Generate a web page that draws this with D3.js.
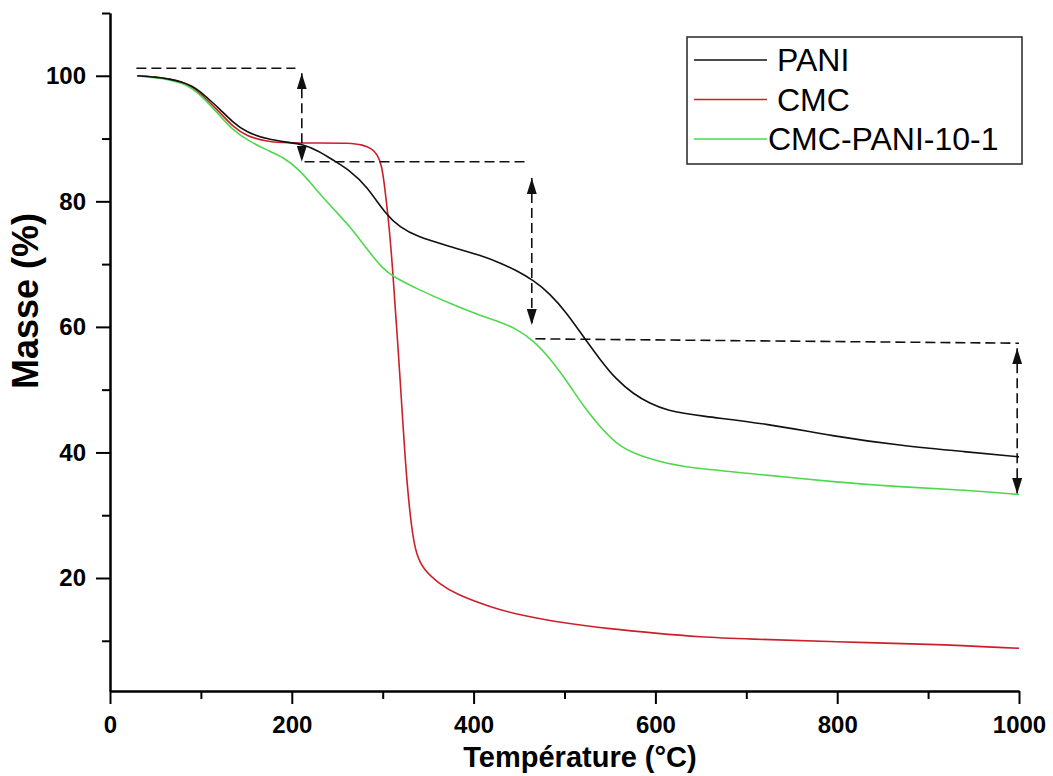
<!DOCTYPE html>
<html>
<head>
<meta charset="utf-8">
<script src="https://cdn.jsdelivr.net/npm/d3@7"></script>
<style>
	body { margin: 0; background: #fff; }
	svg { display: block; font-family: "Liberation Sans", Arial, sans-serif; }
	.axis path, .axis line { stroke: #000; stroke-width: 2; }
	.axis text { font-size: 24px; font-weight: bold; fill: #000; }
	.curve { fill: none; stroke-width: 1.6; }
	.guide { fill: none; stroke: #111; stroke-width: 1.6; stroke-dasharray: 10,5; }
</style>
</head>
<body>
<div id="tga"></div>
<script>
//Global variables
var width = 1053;
var height = 776;

//Temperature (°C) and mass (%)
var paniT = [30, 50, 65, 80, 90, 100, 110, 120, 135, 150, 173, 195, 212, 230, 245, 264, 282, 304, 319, 337, 374, 410, 429, 447, 466, 484, 502, 520, 539, 557, 576, 594, 612, 649, 722, 795, 869, 942, 1000];
var paniM = [100, 99.8, 99.5, 99.0, 98.4, 97.4, 96.1, 94.8, 92.6, 91.0, 89.9, 89.4, 89.1, 88.0, 86.6, 84.9, 82.5, 77.8, 75.9, 74.4, 72.8, 71.3, 70.2, 69.0, 67.4, 65.3, 62.3, 58.6, 54.8, 51.6, 49.3, 47.8, 46.7, 45.8, 44.6, 42.6, 41.1, 40.1, 39.3];

var cmcT = [30, 50, 65, 80, 90, 100, 110, 120, 135, 150, 173, 195, 230, 264, 278, 288, 294, 299, 302, 306, 310, 314, 317, 321, 326, 332, 337, 345, 363, 381, 418, 450, 500, 550, 600, 649, 700, 800, 900, 1000];
var cmcM = [100, 99.8, 99.5, 99.0, 98.2, 97.1, 95.7, 94.3, 91.9, 90.4, 89.5, 89.3, 89.3, 89.3, 89.0, 88.4, 87.5, 85.7, 82.5, 77.6, 71.2, 62.5, 56.5, 47.5, 36.0, 27.5, 23.7, 21.3, 19.0, 17.4, 15.4, 14.1, 12.8, 11.9, 11.2, 10.6, 10.3, 9.8, 9.5, 8.8];

var mixT = [30, 50, 65, 80, 90, 99, 117, 135, 154, 172, 190, 209, 227, 245, 264, 282, 301, 312, 337, 374, 411, 429, 447, 466, 484, 502, 521, 539, 557, 576, 612, 649, 722, 796, 869, 942, 1000];
var mixM = [100, 99.7, 99.4, 98.8, 98.0, 97.0, 94.3, 91.3, 89.5, 88.2, 87.1, 85.0, 81.8, 78.9, 76.0, 72.5, 69.1, 68.0, 66.1, 63.7, 61.6, 60.8, 59.7, 57.8, 55.0, 51.5, 47.3, 44.1, 41.4, 39.8, 38.2, 37.4, 36.4, 35.3, 34.5, 34.0, 33.3];

var seriesNames = ["PANI", "CMC", "CMC-PANI-10-1"];
var seriesColors = ["#111111", "#cc1f2a", "#4fd84f"];

//Dashed guides (horizontal levels) and double arrows
var guideStartT = [29, 214, 468];
var guideEndT = [204, 458, 1000];
var guideStartM = [101.2, 86.3, 58.1];
var guideEndM = [101.2, 86.3, 57.4];
var arrowT = [211, 464, 998];
var arrowTopM = [100.4, 83.7, 56.6];
var arrowBottomM = [86.3, 60.3, 33.4];

//Ticks
var xMajor = [0, 200, 400, 600, 800, 1000];
var xMinor = [100, 300, 500, 700, 900];
var yMajor = [20, 40, 60, 80, 100];
var yMinor = [10, 30, 50, 70, 90, 110];

function drawChart() {
	var svg = d3.select("#tga")
	.append("svg")
	.attr("width", width)
	.attr("height", height);

	//Define scales
	var xScale = d3.scaleLinear()
	.domain([0, 1000])
	.range([110, 1019]);

	var yScale = d3.scaleLinear()
	.domain([2, 110])
	.range([691, 13]);

	//Arrow heads
	var defs = svg.append("defs");
	defs.append("marker")
	.attr("id", "head")
	.attr("viewBox", "0 -5 16 10")
	.attr("refX", 16)
	.attr("refY", 0)
	.attr("markerWidth", 16)
	.attr("markerHeight", 10)
	.attr("markerUnits", "userSpaceOnUse")
	.attr("orient", "auto-start-reverse")
	.append("path")
	.attr("d", "M0,-5L16,0L0,5Z")
	.attr("fill", "#111");

	//Minor ticks first, then major ticks with labels
	svg.append("g")
	.classed("axis", true)
	.attr("transform", "translate(0,691)")
	.call(d3.axisBottom(xScale).tickValues(xMinor).tickSize(8).tickSizeOuter(0).tickFormat(""));

	svg.append("g")
	.classed("axis", true)
	.attr("transform", "translate(0,691)")
	.call(d3.axisBottom(xScale).tickValues(xMajor).tickSize(13).tickSizeOuter(0).tickPadding(12).tickFormat(d3.format("d")));

	svg.append("g")
	.classed("axis", true)
	.attr("transform", "translate(110,0)")
	.call(d3.axisLeft(yScale).tickValues(yMinor).tickSize(8).tickSizeOuter(0).tickFormat(""));

	svg.append("g")
	.classed("axis", true)
	.attr("transform", "translate(110,0)")
	.call(d3.axisLeft(yScale).tickValues(yMajor).tickSize(14).tickSizeOuter(0).tickPadding(10).tickFormat(d3.format("d")));

	//Curves
	var line = d3.line()
	.x(function(d) { return xScale(d[0]); })
	.y(function(d) { return yScale(d[1]); })
	.curve(d3.curveBasis);

	var series = [d3.zip(paniT, paniM), d3.zip(cmcT, cmcM), d3.zip(mixT, mixM)];
	//draw CMC first so PANI stays on top where they overlap
	[1, 2, 0].forEach(function(i) {
		svg.append("path")
		.datum(series[i])
		.classed("curve", true)
		.attr("stroke", seriesColors[i])
		.attr("d", line);
	});

	//Dashed level lines
	for (var i = 0; i < guideStartT.length; i++) {
		svg.append("line")
		.classed("guide", true)
		.attr("x1", xScale(guideStartT[i]))
		.attr("y1", yScale(guideStartM[i]))
		.attr("x2", xScale(guideEndT[i]))
		.attr("y2", yScale(guideEndM[i]));
	}

	//Double arrows for the mass losses
	for (var i = 0; i < arrowT.length; i++) {
		svg.append("line")
		.classed("guide", true)
		.attr("x1", xScale(arrowT[i]))
		.attr("y1", yScale(arrowTopM[i]))
		.attr("x2", xScale(arrowT[i]))
		.attr("y2", yScale(arrowBottomM[i]))
		.attr("marker-start", "url(#head)")
		.attr("marker-end", "url(#head)");
	}

	//Legend
	var legend = svg.append("g");
	legend.append("rect")
	.attr("x", 687)
	.attr("y", 37)
	.attr("width", 335)
	.attr("height", 127)
	.attr("fill", "#fff")
	.attr("stroke", "#333")
	.attr("stroke-width", 1.6);

	var rowY = [60, 99.5, 139];
	var textX = [777, 777, 768];
	for (var i = 0; i < seriesNames.length; i++) {
		legend.append("line")
		.attr("x1", 694)
		.attr("x2", 767)
		.attr("y1", rowY[i])
		.attr("y2", rowY[i])
		.attr("stroke", seriesColors[i])
		.attr("stroke-width", 1.6);
		legend.append("text")
		.attr("x", textX[i])
		.attr("y", rowY[i] + 11)
		.attr("font-size", "32px")
		.attr("fill", "#000")
		.text(seriesNames[i]);
	}

	//Axis titles
	svg.append("text")
	.attr("x", 580)
	.attr("y", 767)
	.attr("text-anchor", "middle")
	.attr("font-size", "29px")
	.attr("font-weight", "bold")
	.text("Température (°C)");

	svg.append("text")
	.attr("transform", "translate(38,301) rotate(-90)")
	.attr("text-anchor", "middle")
	.attr("font-size", "36px")
	.attr("font-weight", "bold")
	.text("Masse (%)");
}

//Invoke functions
drawChart();
</script>
</body>
</html>
